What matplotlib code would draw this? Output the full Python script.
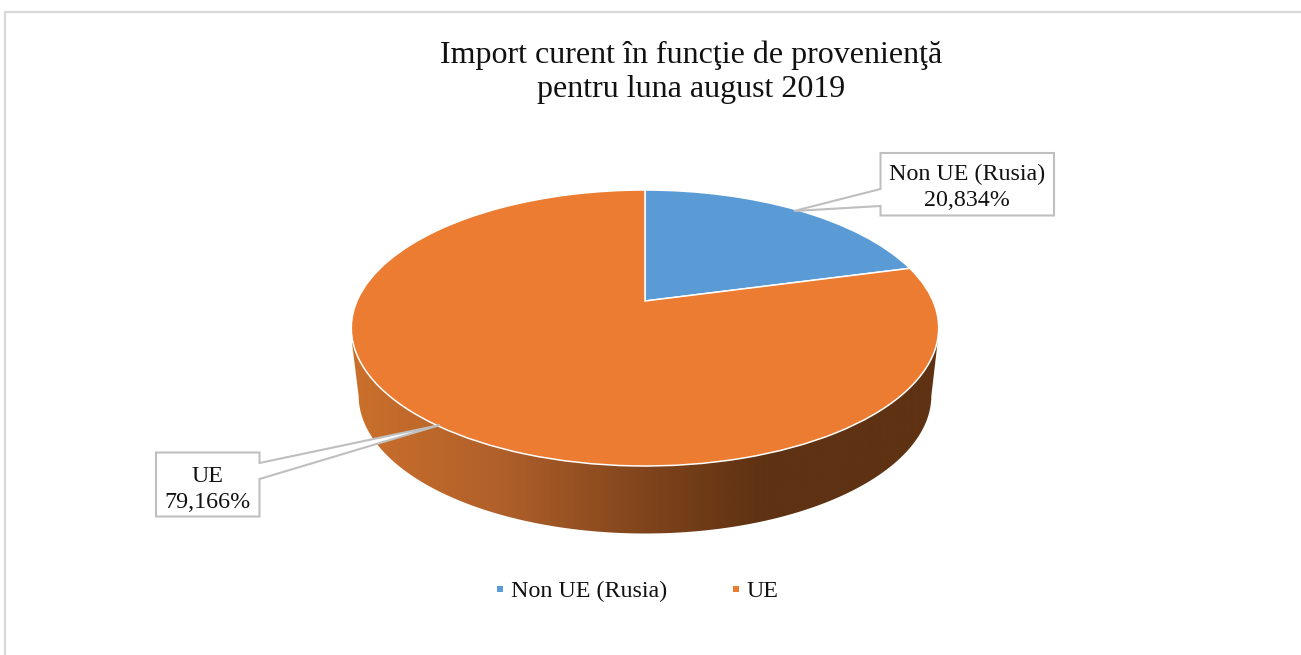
import numpy as np
import matplotlib
matplotlib.use("Agg")
import matplotlib.pyplot as plt
from matplotlib.colors import LinearSegmentedColormap
from matplotlib.lines import Line2D
from matplotlib.patches import Polygon
from matplotlib.path import Path
from matplotlib.transforms import Transform

plt.rcParams['font.family'] = ['Liberation Serif', 'DejaVu Serif']

title = "Import curent în funcţie de provenienţă\npentru luna august 2019"
categories = ["Non UE (Rusia)", "UE"]
values = [20.834, 79.166]
value_labels = ["20,834%", "79,166%"]
colors = ["#5B9BD5", "#EB7C31"]
EDGE = "#BFBFBF"
BORDER = "#D9D9D9"

W, H = 1301, 655
fig = plt.figure(figsize=(W / 100, H / 100), dpi=100, facecolor="white")
ax = fig.add_axes([0, 0, 1, 1])


class Tilt(Transform):
    """Perspective view of the unit-circle pie, in pixel-like data units."""
    input_dims = output_dims = 2
    has_inverted = False
    is_affine = False

    def __init__(self, cx=645.0, k=288.0, a=-73.8, b=301.0, c=0.1957, dy=0.0, sx=1.0):
        super().__init__()
        self.p = (cx, k, a, b, c, dy, sx)

    def transform_non_affine(self, xy):
        cx, k, a, b, c, dy, sx = self.p
        xy = np.asarray(xy, float)
        w = c * xy[:, 1] + 1
        return np.column_stack([cx + sx * k * xy[:, 0] / w,
                                (a * xy[:, 1] + b) / w + dy])

    def transform_path_non_affine(self, path):
        return Path(self.transform_non_affine(path.vertices), path.codes)


# Side wall of the disc
bottom = Tilt(dy=67.5, sx=0.975)
t = np.linspace(0, 2 * np.pi, 721)
rim = bottom.transform_non_affine(np.column_stack([np.cos(t), np.sin(t)]))
rim = rim[rim[:, 1] >= 396]
rim = rim[np.argsort(rim[:, 0])]
wall = Polygon(np.vstack([[[352, 343]], rim, [[937.5, 343]]]), closed=True,
               transform=ax.transData, facecolor="none", edgecolor="none")
ax.add_patch(wall)
shade = LinearSegmentedColormap.from_list("wall", [
    (0.00, "#CB702C"), (0.25, "#B0602A"), (0.50, "#80441C"),
    (0.70, "#5E3212"), (1.00, "#5E3212")])
img = ax.imshow(np.linspace(0, 1, 600)[None, :], cmap=shade, aspect="auto",
                extent=(352, 938, 534, 340), zorder=1)
img.set_clip_path(wall)

# Top of the disc
wedges, _ = ax.pie(values, startangle=90, counterclock=False, colors=colors,
                   wedgeprops=dict(edgecolor="white", linewidth=1.1))
top = Tilt()
for w in wedges:
    w.set_transform(top + ax.transData)
    w.set_zorder(2)

ax.set_aspect("auto")
ax.set_xlim(0, W)
ax.set_ylim(H, 0)
ax.set_frame_on(False)
ax.set_xticks([])
ax.set_yticks([])

# Chart frame
ax.plot([5, 5, W], [H, 12, 12], color=BORDER, lw=1.6, solid_joinstyle="miter", zorder=0)

# Callouts
callouts = [
    ([(880.5, 153), (1054, 153), (1054, 215.5), (880.5, 215.5), (880.5, 206), (794, 211), (880.5, 189)],
     (967, 187.5), 0),
    ([(156, 452.5), (259.5, 452.5), (259.5, 463), (440, 425), (259.5, 479), (259.5, 516.5), (156, 516.5)],
     (207.5, 489.5), 1),
]
for pts, pos, i in callouts:
    ax.add_patch(Polygon(pts, closed=True, facecolor="white", edgecolor=EDGE,
                         linewidth=1.5, joinstyle="miter", zorder=3))
    ax.text(*pos, f"{categories[i]}\n{value_labels[i]}", ha="center", va="center",
            fontsize=17.3, color="#111111", linespacing=1.36, zorder=4)

ax.text(691.5, 72, title, ha="center", va="center", fontsize=23,
        color="#111111", linespacing=1.22, zorder=4)

handles = [Line2D([], [], ls="none", marker="s", ms=4.8, mfc=c, mec=c, mew=0) for c in colors]
ax.legend(handles, categories, loc="center", bbox_to_anchor=(636.5 / W, 1 - 591.5 / H), ncol=2,
          frameon=False, fontsize=17.3, labelcolor="#111111", handlelength=0.5,
          handletextpad=0.2, columnspacing=2.6, borderpad=0, borderaxespad=0)

fig.savefig("out.png", dpi=100, facecolor="white")
